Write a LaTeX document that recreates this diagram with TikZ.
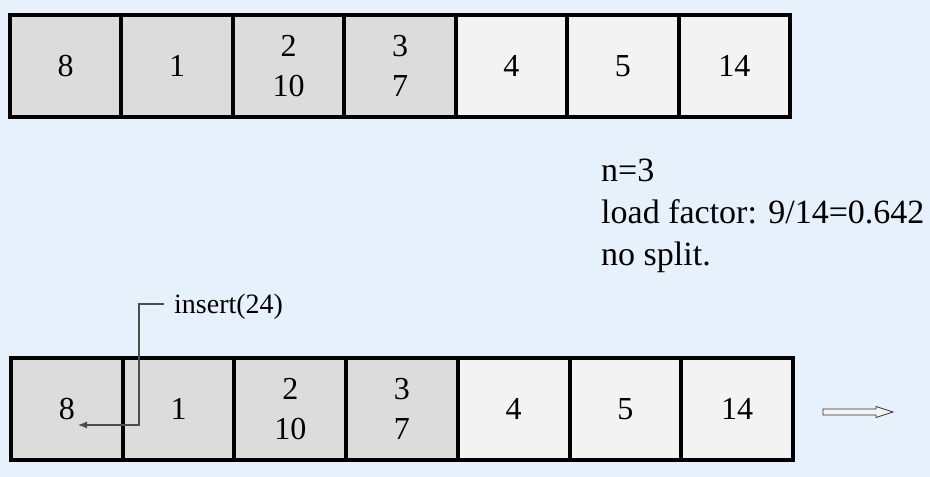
\documentclass[tikz,border=0pt]{standalone}
\usepackage{fontspec}
\setmainfont{Liberation Serif}
\usetikzlibrary{arrows.meta}
\definecolor{bg}{RGB}{231,241,251}
\definecolor{dark}{RGB}{220,220,220}
\definecolor{light}{RGB}{243,243,243}
\tikzset{
  cell/.style={draw=black, line width=4pt, minimum height=102pt,
    inner sep=0pt, anchor=north west, align=center,
    font=\fontsize{32}{40}\selectfont},
  darkcell/.style={cell, fill=dark},
  lightcell/.style={cell, fill=light},
  info/.style={font=\fontsize{34}{42}\selectfont, anchor=base west, inner sep=0pt},
}
\begin{document}
\begin{tikzpicture}[x=1pt,y=-1pt]
\fill[bg] (0,0) rectangle (930,477);
\useasboundingbox (0,0) rectangle (930,477);
% top row
\begin{scope}[every node/.append style={minimum width=111.43pt}]
\node[darkcell] (t1) at (8,13) {8};
\node[darkcell] (t2) at (119.43,13) {1};
\node[darkcell] (t3) at (230.86,13) {2\\10};
\node[darkcell] (t4) at (342.29,13) {3\\7};
\node[lightcell] (t5) at (453.71,13) {4};
\node[lightcell] (t6) at (565.14,13) {5};
\node[lightcell] (t7) at (676.57,13) {14};
\end{scope}
% info
\node[info] (info1) at (601,181) {n=3};
\node[info] (info2) at (601,223) {load factor: 9/14=0.642};
\node[info] (info3) at (601,265) {no split.};
% bottom row
\begin{scope}[every node/.append style={minimum width=111.71pt}]
\node[darkcell] (b1) at (9,356) {8};
\node[darkcell] (b2) at (120.71,356) {1};
\node[darkcell] (b3) at (232.43,356) {2\\10};
\node[darkcell] (b4) at (344.14,356) {3\\7};
\node[lightcell] (b5) at (455.86,356) {4};
\node[lightcell] (b6) at (567.57,356) {5};
\node[lightcell] (b7) at (679.29,356) {14};
\end{scope}
% insert label and arrow
\node[anchor=base west, inner sep=0pt, font=\fontsize{28}{32}\selectfont] (ins) at (174,313) {insert(24)};
\coordinate (start) at (164,304);
\coordinate (tgt) at (78,425);
\draw[line width=1.1pt, color=black!70, -{Latex[length=9pt,width=7pt]}]
  (start) -- (139,304) |- (tgt);
% block arrow
\draw[fill=light, draw=black!80, line width=0.8pt]
  (823,409) -- (876,409) -- (876,406.5) -- (893,412) -- (876,417.5) -- (876,415) -- (823,415) -- cycle;
\end{tikzpicture}
\end{document}
